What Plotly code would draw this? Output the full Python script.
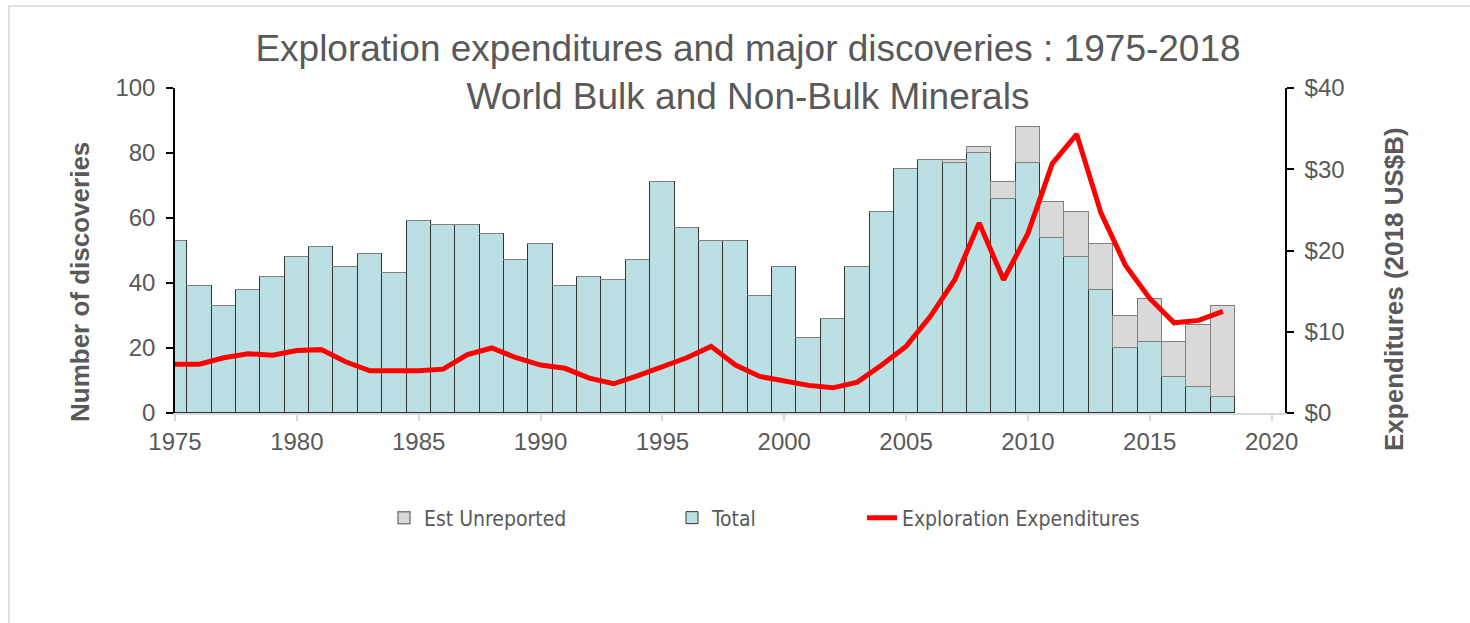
import plotly.graph_objects as go

years = list(range(1975, 2019))
total = [53, 39, 33, 38, 42, 48, 51, 45, 49, 43,
         59, 58, 58, 55, 47, 52, 39, 42, 41, 47,
         71, 57, 53, 53, 36, 45, 23, 29, 45, 62,
         75, 78, 77, 80, 66, 77, 54, 48, 38, 20,
         22, 11, 8, 5]
est_top = [53, 39, 33, 38, 42, 48, 51, 45, 49, 43,
           59, 58, 58, 55, 47, 52, 39, 42, 41, 47,
           71, 57, 53, 53, 36, 45, 23, 29, 45, 62,
           75, 78, 78, 82, 71, 88, 65, 62, 52, 30,
           35, 22, 27, 33]
est_unreported = [t - b for t, b in zip(est_top, total)]
expenditures = [6.0, 6.0, 6.8, 7.3, 7.1, 7.7, 7.8, 6.3, 5.2, 5.2,
                5.2, 5.4, 7.2, 8.0, 6.8, 5.9, 5.5, 4.3, 3.6, 4.6,
                5.7, 6.8, 8.2, 5.9, 4.5, 3.9, 3.4, 3.1, 3.8, 5.9,
                8.2, 11.9, 16.4, 23.4, 16.4, 22.1, 30.7, 34.3, 24.6, 18.2,
                14.1, 11.1, 11.4, 12.5]
x_ticks = list(range(1975, 2021, 5))

W, H = 1470, 623
L, R, T, B = 175, 1285, 88, 413
pw, ph = R - L, B - T

def px(xp):
    return (xp - L) / pw

def py(yp):
    return (B - yp) / ph

grey = "#595959"
font_main = "Liberation Sans, Arial, sans-serif"
font_leg = "Liberation Sans Narrow, Arial Narrow, DejaVu Sans Condensed, sans-serif"

fig = go.Figure()
fig.add_trace(go.Bar(
    x=years, y=total, name="Total", width=1.0,
    marker=dict(color="#BBE0E3", line=dict(color="#333333", width=1)),
    legend="legend2", yaxis="y"))
fig.add_trace(go.Bar(
    x=years, y=est_unreported, name="Est Unreported", width=1.0,
    marker=dict(color="#D9D9D9", line=dict(color="#808080", width=1.5)),
    legend="legend", yaxis="y"))
fig.add_trace(go.Scatter(
    x=years, y=expenditures, name="Exploration Expenditures", mode="lines",
    line=dict(color="#FF0000", width=5), legend="legend3", yaxis="y2"))

leg_common = dict(orientation="h", yanchor="middle", xanchor="left",
                  font=dict(family=font_leg, size=21, color=grey),
                  bgcolor="rgba(0,0,0,0)")

tickfont = dict(family=font_main, size=24, color=grey)
axtitle_font = dict(family=font_main, size=26, color=grey)

fig.update_layout(
    width=W, height=H,
    margin=dict(l=L, r=W - R, t=T, b=H - B, autoexpand=False),
    paper_bgcolor="white", plot_bgcolor="white",
    barmode="stack", bargap=0, showlegend=True,
    title=dict(text="Exploration expenditures and major discoveries : 1975-2018<br>World Bulk and Non-Bulk Minerals",
               x=748 / W, xanchor="center", y=1 - 61 / H, yanchor="middle",
               font=dict(family=font_main, size=37, color=grey)),
    xaxis=dict(range=[1975, 2020.55], tickvals=x_ticks, ticks="outside",
               ticklen=6, tickcolor="#D9D9D9", tickwidth=1.5,
               showline=True, linecolor="#D9D9D9", linewidth=2,
               showgrid=False, zeroline=False, tickfont=tickfont),
    yaxis=dict(range=[0, 100], dtick=20, ticks="outside", ticklen=7,
               tickcolor="black", tickwidth=1.5, showline=True,
               linecolor="black", linewidth=1.5, showgrid=False,
               zeroline=False, tickfont=tickfont, ticklabelstandoff=6),
    yaxis2=dict(range=[0, 40], dtick=10, tickprefix="$", overlaying="y",
                side="right", ticks="outside", ticklen=7, tickcolor="black",
                tickwidth=1.5, showline=True, linecolor="black", linewidth=1.5,
                showgrid=False, zeroline=False, tickfont=tickfont,
                ticklabelstandoff=6),
    legend=dict(x=px(384), y=py(518), **leg_common),
    legend2=dict(x=px(672), y=py(518), **leg_common),
    legend3=dict(x=px(862), y=py(518), **leg_common),
    annotations=[
        dict(text="<b>Number of discoveries</b>", textangle=-90,
             xref="paper", yref="paper", x=px(80), y=py(282),
             xanchor="center", yanchor="middle", showarrow=False,
             font=axtitle_font),
        dict(text="<b>Expenditures (2018 US$B)</b>", textangle=-90,
             xref="paper", yref="paper", x=px(1394), y=py(289),
             xanchor="center", yanchor="middle", showarrow=False,
             font=axtitle_font),
    ],
    shapes=[dict(type="rect", xref="paper", yref="paper",
                 x0=px(9), x1=px(1500), y0=py(660), y1=py(6),
                 line=dict(color="#D9D9D9", width=1.5), layer="below")],
)

fig.write_html("out.html")
